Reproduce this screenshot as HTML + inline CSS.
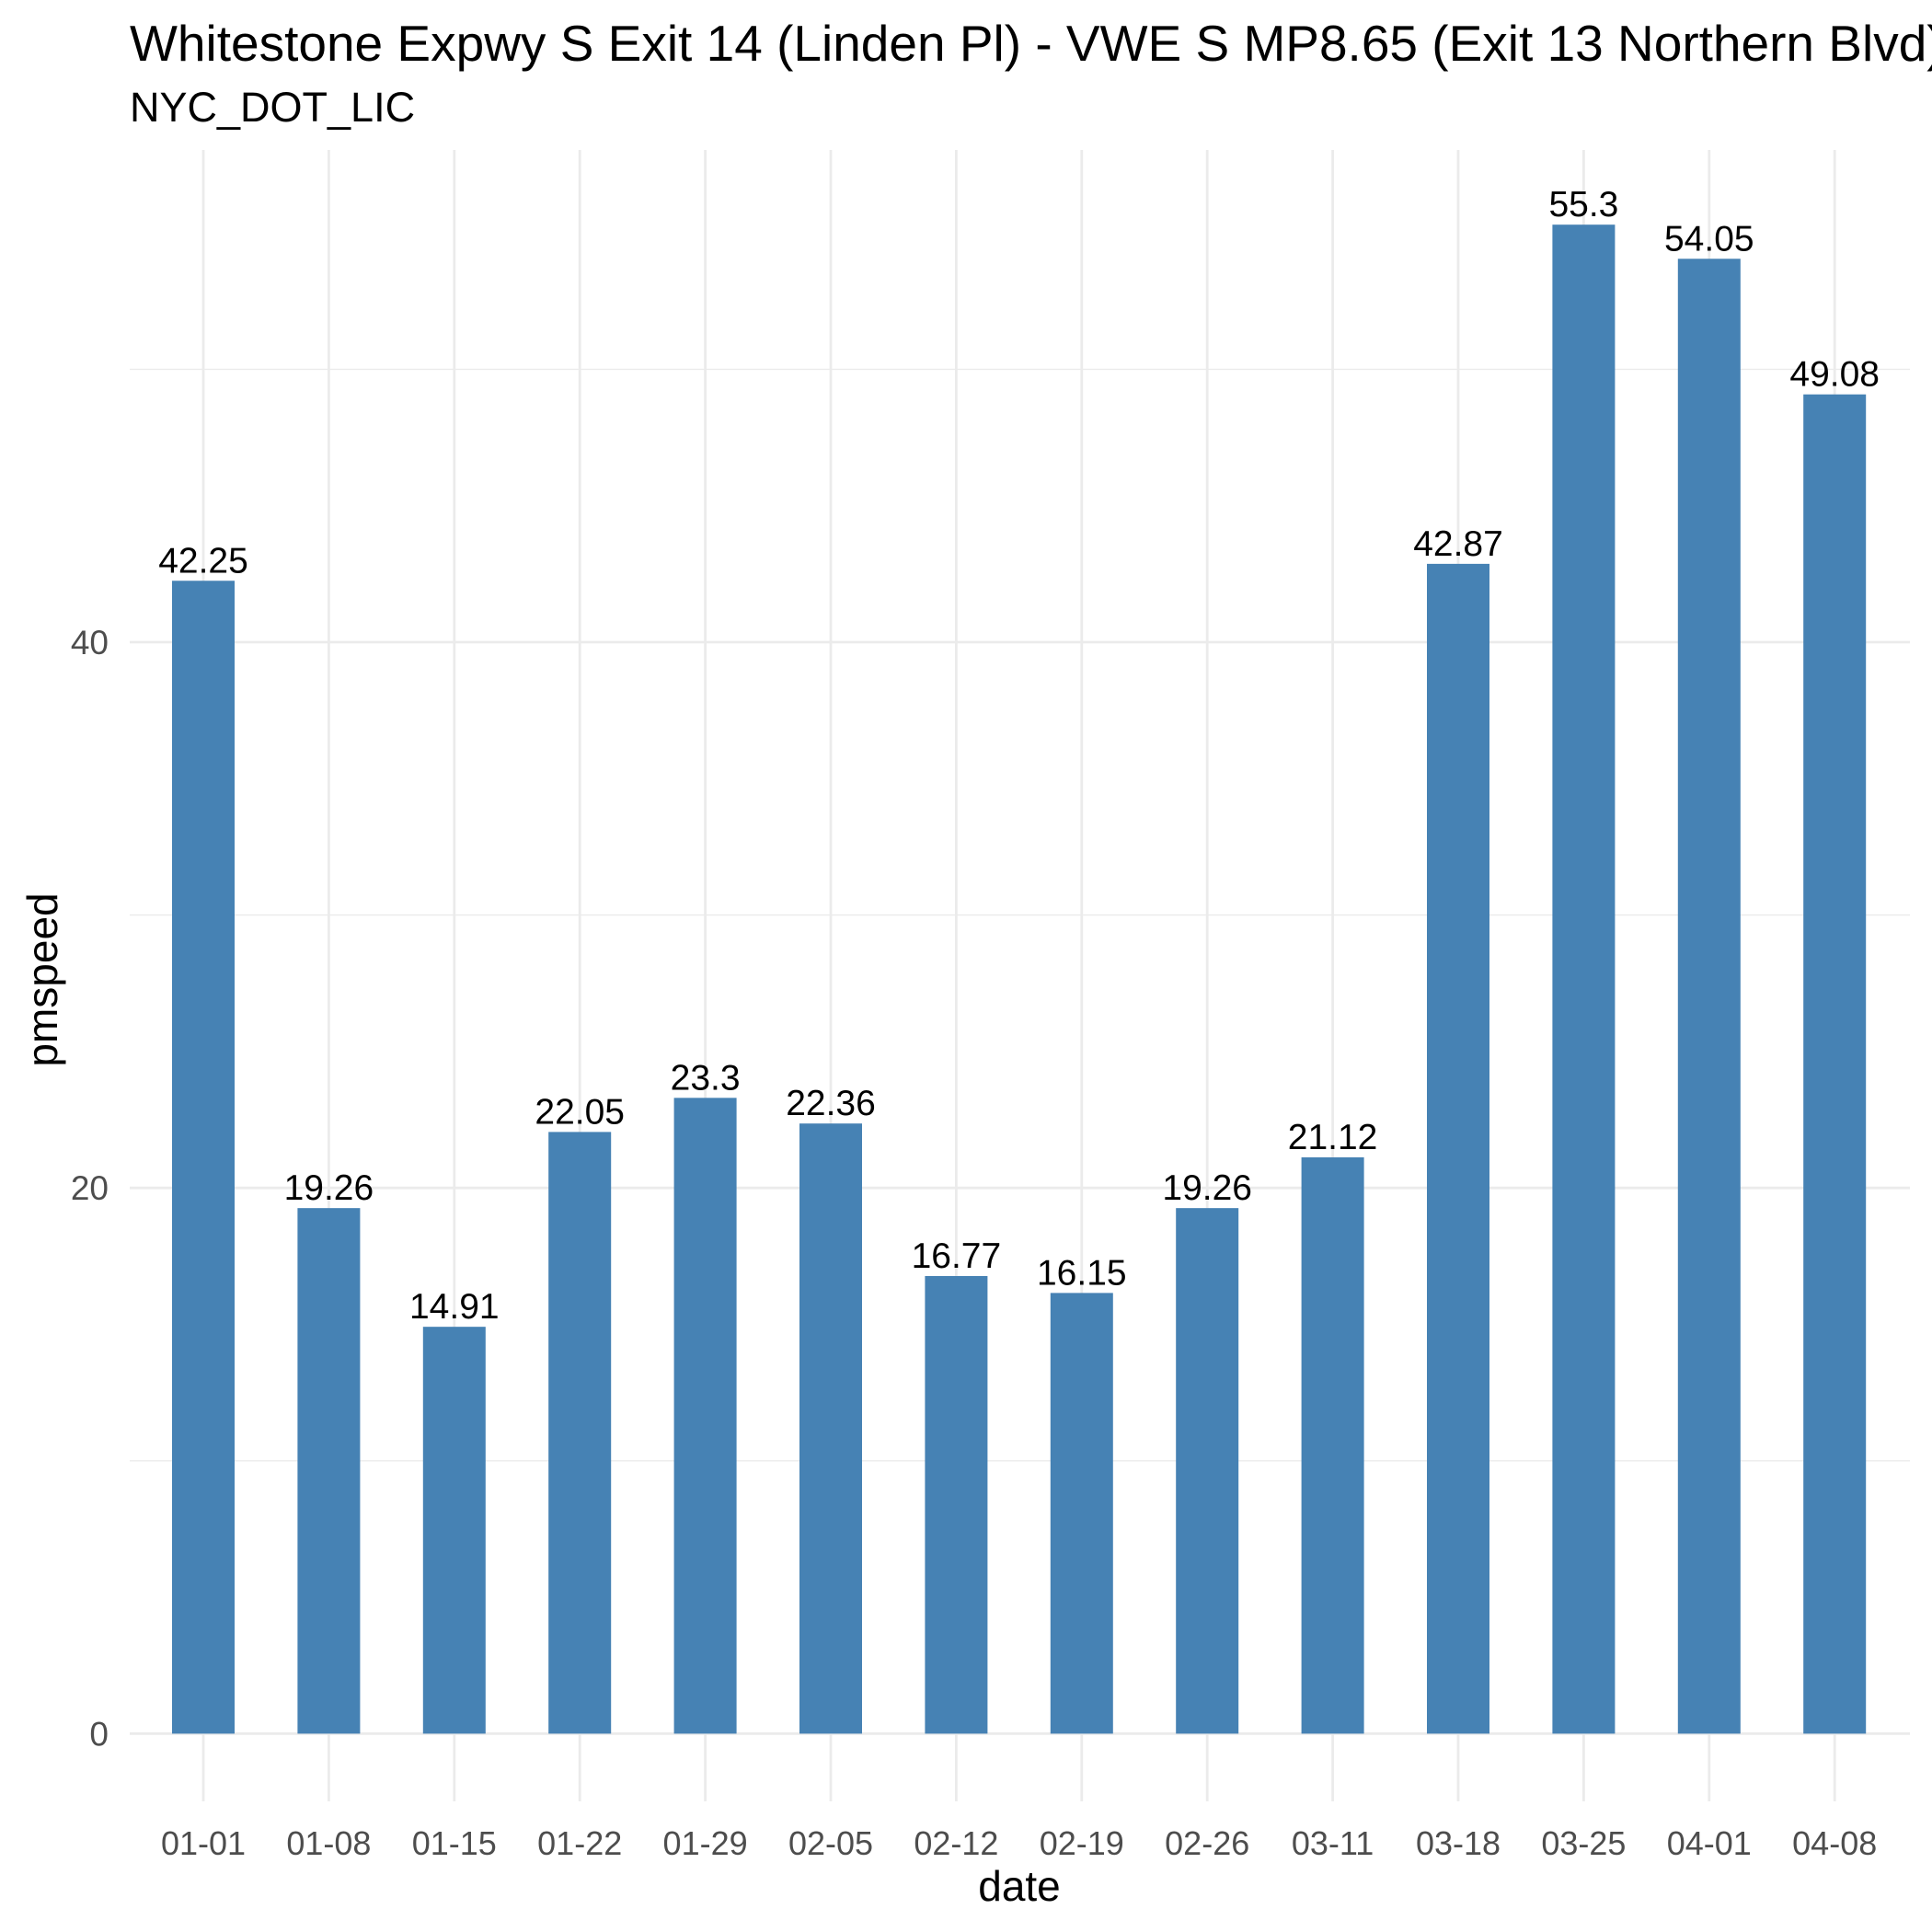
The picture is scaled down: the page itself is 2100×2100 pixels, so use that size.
<!DOCTYPE html>
<html><head><meta charset="utf-8"><style>
html,body{margin:0;padding:0;background:#fff}
svg{display:block;font-family:"Liberation Sans",Arial,sans-serif}
</style></head><body>
<svg id="chart" width="2100" height="2100" viewBox="0 0 2100 2100">
<rect width="2100" height="2100" fill="#fff"/>
<text x="141" y="66" font-size="55" fill="#000">Whitestone Expwy S Exit 14 (Linden Pl) - VWE S MP8.65 (Exit 13 Northern Blvd)</text>
<text x="141" y="132" font-size="45" fill="#000">NYC_DOT_LIC</text>
<g id="grid"></g>
<g id="bars"></g>
<g id="labels"></g>
<g id="axes"></g>
<text x="1108" y="2066" font-size="46" text-anchor="middle" fill="#000">date</text>
<text x="0" y="0" font-size="46" text-anchor="middle" fill="#000" transform="translate(62,1065) rotate(-90)">pmspeed</text>
</svg>
<script>
const categories = ["01-01","01-08","01-15","01-22","01-29","02-05","02-12","02-19","02-26","03-11","03-18","03-25","04-01","04-08"];
const values = [42.25,19.26,14.91,22.05,23.3,22.36,16.77,16.15,19.26,21.12,42.87,55.3,54.05,49.08];
const labels = ["42.25","19.26","14.91","22.05","23.3","22.36","16.77","16.15","19.26","21.12","42.87","55.3","54.05","49.08"];
const yTicks = [0,20,40];
const yMinor = [10,30,50];

const NS = "http://www.w3.org/2000/svg";
const panelL = 141, panelR = 2076, panelT = 163, panelB = 1958;
function yScale(v){ return 1884.4 - v * 29.66; }
function xScale(i){ return 221 + i * 136.4; }
const barW = 68;
function mk(tag, attrs, parent){ const e = document.createElementNS(NS, tag); for (const k in attrs) e.setAttribute(k, attrs[k]); parent.appendChild(e); return e; }
const grid = document.getElementById('grid'), bars = document.getElementById('bars'), lab = document.getElementById('labels'), axes = document.getElementById('axes');

yMinor.forEach(v => {
  const l = mk('line', {x1:panelL, x2:panelR, y1:yScale(v), y2:yScale(v), stroke:'#EBEBEB', 'stroke-width':1.4}, grid);
  
  
});
yTicks.forEach(v => {
  const l = mk('line', {x1:panelL, x2:panelR, y1:yScale(v), y2:yScale(v), stroke:'#EBEBEB', 'stroke-width':2.8}, grid);
  
  
  const t = mk('text', {x:118, y:yScale(v)+13, 'font-size':37, 'text-anchor':'end', fill:'#4D4D4D'}, axes);
  t.textContent = v;
  
  
});
categories.forEach((c, i) => {
  const x = xScale(i);
  const g = mk('line', {x1:x, x2:x, y1:panelT, y2:panelB, stroke:'#EBEBEB', 'stroke-width':2.8}, grid);
  
  
  const b = mk('rect', {x:x-barW/2, y:yScale(values[i]), width:barW, height:yScale(0)-yScale(values[i]), fill:'#4682B4'}, bars);
  
  
  const t = mk('text', {x:x, y:yScale(values[i])-9, 'font-size':39, 'text-anchor':'middle', fill:'#000'}, lab);
  t.textContent = labels[i];
  
  
  const xt = mk('text', {x:x, y:2016, 'font-size':36, 'text-anchor':'middle', fill:'#4D4D4D'}, axes);
  xt.textContent = c;
  
  
});
</script>
</body></html>
